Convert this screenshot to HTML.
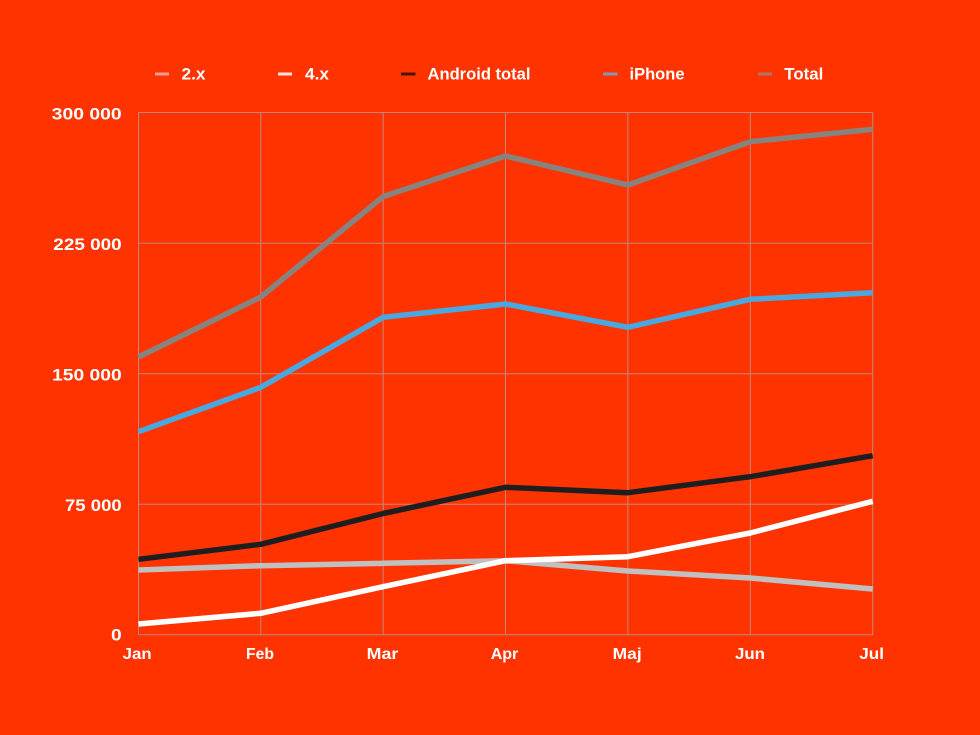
<!DOCTYPE html>
<html>
<head>
<meta charset="utf-8">
<style>
  html,body{margin:0;padding:0;background:#ff3300;}
  svg{display:block;}
  text{font-family:"Liberation Sans",sans-serif;font-weight:bold;fill:#ffffff;}
</style>
</head>
<body>
<svg width="980" height="735" viewBox="0 0 980 735" xmlns="http://www.w3.org/2000/svg">
  <rect x="0" y="0" width="980" height="735" fill="#ff3300"/>

  <!-- Legend -->
  <g>
    <rect x="155" y="72.5" width="14" height="3" fill="#eca291"/>
    <text x="181.5" y="79.3" font-size="16.5" textLength="24" lengthAdjust="spacingAndGlyphs">2.x</text>
    <rect x="278" y="72.5" width="14" height="3" fill="#fde4dc"/>
    <text x="305" y="79.3" font-size="16.5" textLength="24" lengthAdjust="spacingAndGlyphs">4.x</text>
    <rect x="401" y="72.5" width="14.5" height="3" fill="#4a1408"/>
    <text x="427.5" y="79.3" font-size="16.5" textLength="103" lengthAdjust="spacingAndGlyphs">Android total</text>
    <rect x="603" y="72.5" width="14.5" height="3" fill="#8a94b4"/>
    <text x="629.5" y="79.3" font-size="16.5" textLength="55" lengthAdjust="spacingAndGlyphs">iPhone</text>
    <rect x="758" y="72.5" width="14" height="3" fill="#b07468"/>
    <text x="784.3" y="79.3" font-size="16.5" textLength="39" lengthAdjust="spacingAndGlyphs">Total</text>
  </g>

  <!-- Grid -->
  <g stroke="#c3887a" stroke-width="1" fill="none">
    <line x1="138.5" y1="112.5" x2="872.7" y2="112.5"/>
    <line x1="138.5" y1="243.3" x2="872.7" y2="243.3"/>
    <line x1="138.5" y1="373.8" x2="872.7" y2="373.8"/>
    <line x1="138.5" y1="504.3" x2="872.7" y2="504.3"/>
    <line x1="138.5" y1="634.8" x2="872.7" y2="634.8"/>
    <line x1="138.5" y1="112.5" x2="138.5" y2="634.8"/>
    <line x1="260.8" y1="112.5" x2="260.8" y2="634.8"/>
    <line x1="383.2" y1="112.5" x2="383.2" y2="634.8"/>
    <line x1="505.5" y1="112.5" x2="505.5" y2="634.8"/>
    <line x1="627.9" y1="112.5" x2="627.9" y2="634.8"/>
    <line x1="750.3" y1="112.5" x2="750.3" y2="634.8"/>
    <line x1="872.7" y1="112.5" x2="872.7" y2="634.8"/>
  </g>

  <!-- Y labels -->
  <g font-size="17" text-anchor="start">
    <text x="51.7" y="119.3" textLength="70" lengthAdjust="spacingAndGlyphs">300 000</text>
    <text x="53.3" y="250" textLength="68.4" lengthAdjust="spacingAndGlyphs">225 000</text>
    <text x="52" y="380.3" textLength="69.7" lengthAdjust="spacingAndGlyphs">150 000</text>
    <text x="65" y="511" textLength="56.7" lengthAdjust="spacingAndGlyphs">75 000</text>
    <text x="111" y="640.7" textLength="10.7" lengthAdjust="spacingAndGlyphs">0</text>
  </g>

  <!-- X labels -->
  <g font-size="16">
    <text x="122.7" y="659" textLength="29" lengthAdjust="spacingAndGlyphs">Jan</text>
    <text x="246" y="659" textLength="28" lengthAdjust="spacingAndGlyphs">Feb</text>
    <text x="366.7" y="659" textLength="31.6" lengthAdjust="spacingAndGlyphs">Mar</text>
    <text x="490.7" y="659" textLength="27.6" lengthAdjust="spacingAndGlyphs">Apr</text>
    <text x="612.7" y="659" textLength="29" lengthAdjust="spacingAndGlyphs">Maj</text>
    <text x="735" y="659" textLength="30" lengthAdjust="spacingAndGlyphs">Jun</text>
    <text x="859.3" y="659" textLength="24.7" lengthAdjust="spacingAndGlyphs">Jul</text>
  </g>

  <!-- Series -->
  <g fill="none" stroke-width="5.5" stroke-linejoin="round" stroke-linecap="butt">
    <polyline stroke="#c0c0c0" points="138.5,570 260.8,565.7 383.2,563.3 505.5,560.7 627.9,571 750.3,578 872.7,589"/>
    <polyline stroke="#ffffff" points="138.5,624 260.8,613.3 383.2,586.7 505.5,560.7 627.9,556.7 750.3,533 872.7,501.3"/>
    <polyline stroke="#1e1e1e" points="138.5,559.3 260.8,544.3 383.2,513.5 505.5,487.3 627.9,492.7 750.3,476.7 872.7,455.7"/>
    <polyline stroke="#4aa8e0" points="138.5,431.7 260.8,387.3 383.2,317.3 505.5,304 627.9,327.3 750.3,299.3 872.7,292.7"/>
    <polyline stroke="#878480" points="138.5,357 260.8,297 383.2,196.5 505.5,156 627.9,185 750.3,141.7 872.7,129.3"/>
  </g>
</svg>
</body>
</html>
